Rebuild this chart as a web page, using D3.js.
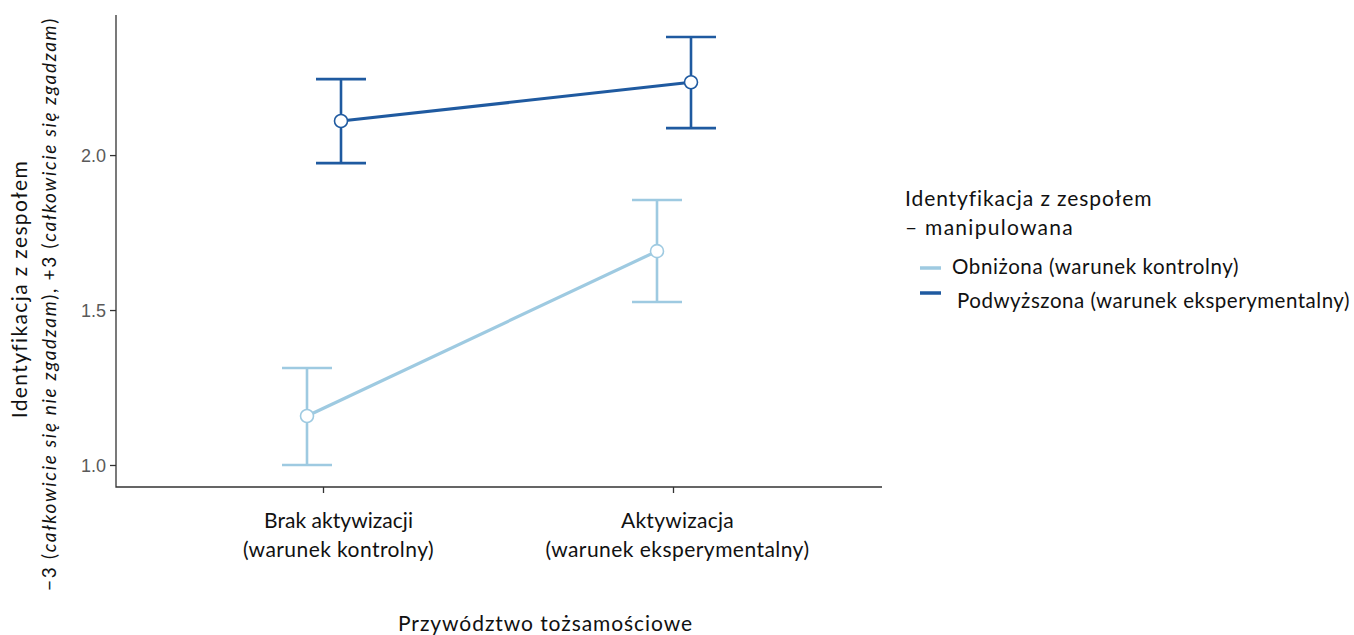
<!DOCTYPE html>
<html>
<head>
<meta charset="utf-8">
<script src="https://cdn.jsdelivr.net/npm/d3@7"></script>
<style>
  html, body { margin: 0; padding: 0; background: #fff; }
  svg { display: block; }
</style>
</head>
<body>
<svg id="chart" width="1354" height="635"></svg>
<script>
// Categories on the x axis (two-line labels)
const categories = ["Brak aktywizacji", "Aktywizacja"];
const categoryLabels = [
  ["Brak aktywizacji", "(warunek kontrolny)"],
  ["Aktywizacja", "(warunek eksperymentalny)"]
];
// Series: means with lower / upper error-bar limits
const seriesNames = ["Obniżona (warunek kontrolny)", "Podwyższona (warunek eksperymentalny)"];
const lowMeans  = [1.158, 1.690];
const lowLower  = [1.000, 1.526];
const lowUpper  = [1.313, 1.855];
const highMeans = [2.110, 2.235];
const highLower = [1.974, 2.087];
const highUpper = [2.245, 2.381];
const yTicks = [1.0, 1.5, 2.0];

const colors = ["#9ecae1", "#1f5aa0"];
const dodge = [-16, 18];

const series = [
  { name: seriesNames[0], mean: lowMeans, lo: lowLower, hi: lowUpper, color: colors[0], dx: dodge[0] },
  { name: seriesNames[1], mean: highMeans, lo: highLower, hi: highUpper, color: colors[1], dx: dodge[1] }
];

const svg = d3.select("#chart");
const plot = { left: 116, right: 882, top: 15, bottom: 487 };

const x = d3.scalePoint().domain(categories).range([323, 673]);
const y = d3.scaleLinear().domain([0.929, 2.452]).range([plot.bottom, plot.top]);

const uiFont = "Lato, 'Open Sans', sans-serif";

// Stretch a text element to a given overall width via letter spacing
function fitWidth(sel, width) {
  const node = sel.node();
  const n = node.textContent.length;
  const len = node.getComputedTextLength();
  sel.attr("letter-spacing", ((width - len) / n).toFixed(3));
  return sel;
}

// Axes
const yAxis = d3.axisLeft(y).tickValues(yTicks).tickFormat(d3.format(".1f")).tickSize(6).tickSizeOuter(0);
const gy = svg.append("g").attr("transform", `translate(${plot.left},0)`).call(yAxis);
gy.select(".domain").remove();
gy.selectAll(".tick line").attr("stroke", "#333").attr("stroke-width", 1.3);
gy.selectAll(".tick text").attr("fill", "#5a5a5a").attr("font-family", "'Liberation Sans', Arial, sans-serif").attr("font-size", 18).attr("dx", -1).attr("dy", "0.35em");

const xAxis = d3.axisBottom(x).tickSize(6).tickSizeOuter(0).tickFormat("");
const gx = svg.append("g").attr("transform", `translate(0,${plot.bottom})`).call(xAxis);
gx.select(".domain").remove();
gx.selectAll(".tick line").attr("stroke", "#333").attr("stroke-width", 1.3);

// axis lines
svg.append("path")
  .attr("d", `M${plot.left},${plot.top}V${plot.bottom}H${plot.right}`)
  .attr("fill", "none").attr("stroke", "#333").attr("stroke-width", 1.3);

// x category labels
const catLabelLayout = [
  { cx: 338.5, widths: [149, 191] },
  { cx: 677.5, widths: [113, 264] }
];
const catBaselines = [528, 557];
categoryLabels.forEach((lines, i) => {
  lines.forEach((ln, j) => {
    const t = svg.append("text")
      .attr("x", catLabelLayout[i].cx)
      .attr("y", catBaselines[j])
      .attr("text-anchor", "middle")
      .attr("font-family", uiFont)
      .attr("font-size", 21)
      .attr("fill", "#111")
      .text(ln);
    fitWidth(t, catLabelLayout[i].widths[j]);
  });
});

// x title
fitWidth(svg.append("text")
  .attr("x", 545.5).attr("y", 631)
  .attr("text-anchor", "middle")
  .attr("font-family", uiFont).attr("font-size", 21).attr("fill", "#111")
  .text("Przywództwo tożsamościowe"), 295);

// y title (two lines, rotated)
fitWidth(svg.append("text")
  .attr("transform", "translate(27,289) rotate(-90)")
  .attr("text-anchor", "middle")
  .attr("font-family", uiFont).attr("font-size", 21).attr("fill", "#111")
  .text("Identyfikacja z zespołem"), 258);

const sub = svg.append("text")
  .attr("transform", "translate(56,304) rotate(-90)")
  .attr("text-anchor", "middle")
  .attr("font-family", uiFont).attr("font-size", 19).attr("fill", "#111");
sub.append("tspan").text("\u22123 (");
sub.append("tspan").attr("font-style", "italic").text("całkowicie się nie zgadzam");
sub.append("tspan").text("), +3 (");
sub.append("tspan").attr("font-style", "italic").text("całkowicie się zgadzam");
sub.append("tspan").text(")");
fitWidth(sub, 574);

// Series: lines, error bars, points
const capHalf = 25;
series.forEach(s => {
  const g = svg.append("g");
  const px = i => x(categories[i]) + s.dx;

  const line = d3.line().x((d, i) => px(i)).y(d => y(d));
  g.append("path").datum(s.mean).attr("d", line)
    .attr("fill", "none").attr("stroke", s.color).attr("stroke-width", 3.2);

  s.mean.forEach((m, i) => {
    const cx = px(i);
    g.append("line").attr("x1", cx).attr("x2", cx).attr("y1", y(s.lo[i])).attr("y2", y(s.hi[i]))
      .attr("stroke", s.color).attr("stroke-width", 2.6);
    [s.lo[i], s.hi[i]].forEach(v => {
      g.append("line").attr("x1", cx - capHalf).attr("x2", cx + capHalf).attr("y1", y(v)).attr("y2", y(v))
        .attr("stroke", s.color).attr("stroke-width", 2.6);
    });
  });

  g.selectAll("circle").data(s.mean).join("circle")
    .attr("cx", (d, i) => px(i)).attr("cy", d => y(d)).attr("r", 6.5)
    .attr("fill", "#fff").attr("stroke", s.color).attr("stroke-width", 1.6);
});

// Legend
const lg = svg.append("g").attr("font-family", uiFont).attr("fill", "#111");
fitWidth(lg.append("text").attr("x", 905).attr("y", 206).attr("font-size", 21).text("Identyfikacja z zespołem"), 247);
fitWidth(lg.append("text").attr("x", 905).attr("y", 235).attr("font-size", 21).text("\u2013 manipulowana"), 169);
const legendRows = [
  { sy: 268, tx: 952, ty: 274, w: 287 },
  { sy: 293, tx: 957, ty: 308, w: 393 }
];
series.forEach((s, i) => {
  const r = legendRows[i];
  lg.append("line").attr("x1", 920).attr("x2", 941).attr("y1", r.sy).attr("y2", r.sy)
    .attr("stroke", s.color).attr("stroke-width", 3.5);
  fitWidth(lg.append("text").attr("x", r.tx).attr("y", r.ty).attr("font-size", 20.5).text(s.name), r.w);
});
</script>
</body>
</html>
